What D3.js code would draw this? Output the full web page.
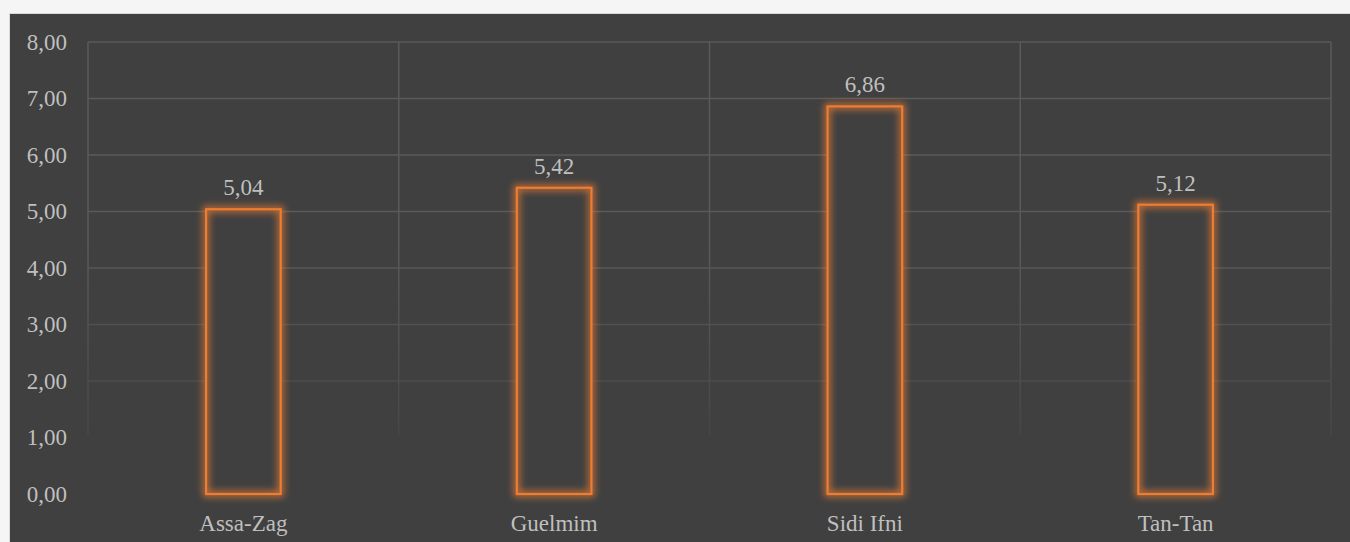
<!DOCTYPE html>
<meta charset="utf-8">
<style>
  body { margin: 0; background: #f5f5f5; }
  svg { display: block; }
</style>
<div id="chart"></div>
<script src="https://d3js.org/d3.v7.min.js"></script>
<script>

// data
var regions = ["Assa-Zag", "Guelmim", "Sidi Ifni", "Tan-Tan"];
var values = [5.04, 5.42, 6.86, 5.12];
var yTicks = [0, 1, 2, 3, 4, 5, 6, 7, 8];

var width = 1350, height = 542;
var margin = {top: 42, right: 19, bottom: 48, left: 88};
var fontSize = 23;

var svg = d3.select("#chart")
    .append("svg")
    .attr("width", width)
    .attr("height", height)
    .attr("font-family", "'Liberation Serif', 'Times New Roman', serif");

var defs = svg.append("defs");

// orange glow around the bars
var glow = defs.append("filter")
    .attr("id", "glow")
    .attr("x", "-50%").attr("y", "-50%")
    .attr("width", "200%").attr("height", "200%");
glow.append("feMorphology")
    .attr("in", "SourceGraphic")
    .attr("operator", "dilate")
    .attr("radius", 2)
    .attr("result", "wide");
glow.append("feGaussianBlur")
    .attr("in", "wide")
    .attr("stdDeviation", 3.5)
    .attr("result", "blur");
glow.append("feComponentTransfer")
    .attr("in", "blur")
    .attr("result", "soft")
  .append("feFuncA")
    .attr("type", "linear")
    .attr("slope", 0.75);
var merge = glow.append("feMerge");
merge.append("feMergeNode").attr("in", "soft");
merge.append("feMergeNode").attr("in", "SourceGraphic");

// gridlines fade out towards the bottom
var grad = defs.append("linearGradient")
    .attr("id", "fade")
    .attr("gradientUnits", "userSpaceOnUse")
    .attr("x1", 0).attr("x2", 0)
    .attr("y1", margin.top).attr("y2", 494);
grad.append("stop").attr("offset", 0).attr("stop-color", "#fff");
grad.append("stop").attr("offset", 0.45).attr("stop-color", "#fff");
grad.append("stop").attr("offset", 0.87).attr("stop-color", "#444");
grad.append("stop").attr("offset", 0.871).attr("stop-color", "#000");
grad.append("stop").attr("offset", 1).attr("stop-color", "#000");

defs.append("mask")
    .attr("id", "gridmask")
    .attr("maskUnits", "userSpaceOnUse")
    .attr("x", 0).attr("y", 0).attr("width", width).attr("height", height)
  .append("rect")
    .attr("x", 0).attr("y", 0)
    .attr("width", width).attr("height", height)
    .attr("fill", "url(#fade)");

// dark chart area
svg.append("rect")
    .attr("x", 9.5)
    .attr("y", 13.5)
    .attr("width", width)
    .attr("height", height)
    .attr("fill", "#404040")
    .attr("stroke", "#d9d9d9")
    .attr("stroke-width", 1);

var x = d3.scaleBand()
    .domain(regions)
    .range([margin.left, width - margin.right])
    .paddingInner(0)
    .paddingOuter(0);

var y = d3.scaleLinear()
    .domain([0, 8])
    .range([height - margin.bottom, margin.top]);

var grid = svg.append("g")
    .attr("mask", "url(#gridmask)")
    .attr("stroke", "#5a5a5a")
    .attr("stroke-width", 1.5);

grid.selectAll("line.h")
    .data(yTicks.slice(1))
    .enter().append("line")
    .attr("class", "h")
    .attr("x1", margin.left)
    .attr("x2", width - margin.right)
    .attr("y1", function(d) { return y(d); })
    .attr("y2", function(d) { return y(d); });

grid.selectAll("line.v")
    .data(regions.concat(["end"]))
    .enter().append("line")
    .attr("class", "v")
    .attr("x1", function(d, i) { return i < regions.length ? x(d) : x.range()[1]; })
    .attr("x2", function(d, i) { return i < regions.length ? x(d) : x.range()[1]; })
    .attr("y1", y(8))
    .attr("y2", y(0));

var fmt = function(v) { return d3.format(".2f")(v).replace(".", ","); };

// y axis labels
svg.append("g")
    .selectAll("text")
    .data(yTicks)
    .enter().append("text")
    .attr("x", 67)
    .attr("y", function(d) { return y(d); })
    .attr("dy", "0.33em")
    .attr("text-anchor", "end")
    .attr("font-size", fontSize)
    .attr("fill", "#bfbfbf")
    .text(fmt);

// category labels
svg.append("g")
    .selectAll("text")
    .data(regions)
    .enter().append("text")
    .attr("x", function(d) { return x(d) + x.bandwidth() / 2; })
    .attr("y", 531)
    .attr("text-anchor", "middle")
    .attr("font-size", fontSize)
    .attr("fill", "#bfbfbf")
    .text(function(d) { return d; });

var barW = x.bandwidth() * 0.24;
var barX = function(d, i) { return x(regions[i]) + (x.bandwidth() - barW) / 2; };

// bar interiors hide the gridlines
svg.append("g")
    .selectAll("rect")
    .data(values)
    .enter().append("rect")
    .attr("x", barX)
    .attr("y", function(d) { return y(d); })
    .attr("width", barW)
    .attr("height", function(d) { return y(0) - y(d); })
    .attr("fill", "#404040");

// bars: orange outline with glow
svg.append("g")
    .selectAll("rect")
    .data(values)
    .enter().append("rect")
    .attr("x", barX)
    .attr("y", function(d) { return y(d); })
    .attr("width", barW)
    .attr("height", function(d) { return y(0) - y(d); })
    .attr("fill", "none")
    .attr("stroke", "#ed7d31")
    .attr("stroke-width", 2.2)
    .attr("filter", "url(#glow)");

// value labels
svg.append("g")
    .selectAll("text")
    .data(values)
    .enter().append("text")
    .attr("x", function(d, i) { return x(regions[i]) + x.bandwidth() / 2; })
    .attr("y", function(d) { return y(d) - 14; })
    .attr("text-anchor", "middle")
    .attr("font-size", fontSize)
    .attr("fill", "#bfbfbf")
    .text(fmt);

</script>
